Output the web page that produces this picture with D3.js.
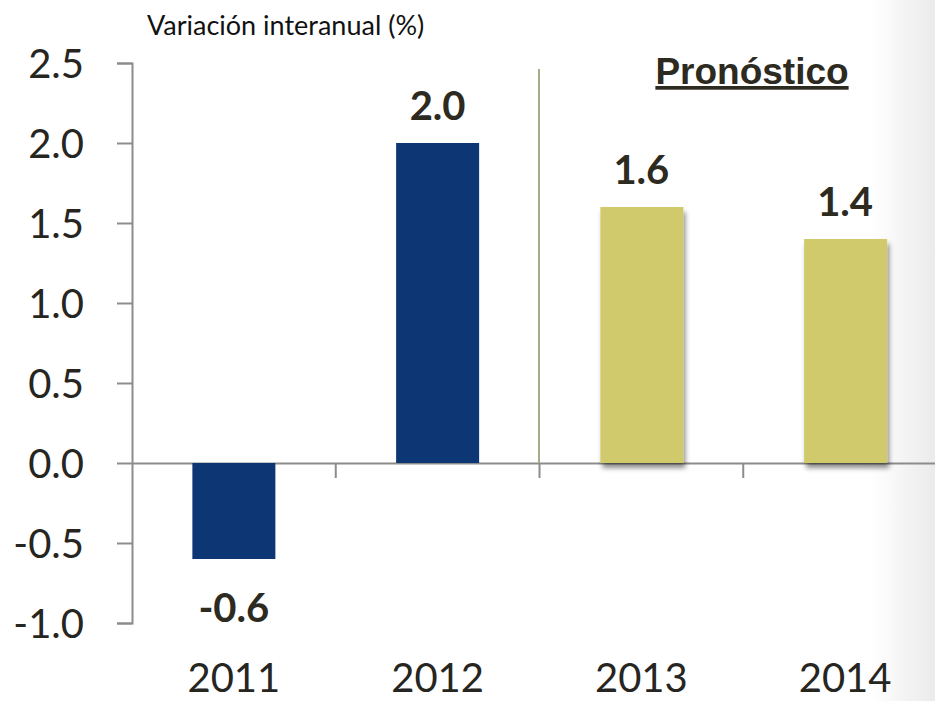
<!DOCTYPE html>
<html>
<head>
<meta charset="utf-8">
<script src="https://cdn.jsdelivr.net/npm/d3@7"></script>
<style>
  body { margin: 0; background: #fff; }
  svg { display: block; }
</style>
</head>
<body>
<div id="chart"></div>
<script>
// data
const years = ['2011', '2012', '2013', '2014'];
const values = [-0.6, 2.0, 1.6, 1.4];
const forecast = [false, false, true, true];
const yTicks = [-1.0, -0.5, 0.0, 0.5, 1.0, 1.5, 2.0, 2.5];

const width = 935, height = 701;

// plain hyphen instead of unicode minus
const fmt = d => d3.format('.1f')(d).replace('\u2212', '-');

const svg = d3.select('#chart').append('svg')
  .attr('width', width)
  .attr('height', height);

const defs = svg.append('defs');
const grad = defs.append('linearGradient')
  .attr('id', 'edge').attr('x1', '0').attr('x2', '1').attr('y1', '0').attr('y2', '0');
grad.append('stop').attr('offset', '0').attr('stop-color', '#ffffff').attr('stop-opacity', 0);
grad.append('stop').attr('offset', '0.5').attr('stop-color', '#f6f6f6').attr('stop-opacity', 1);
grad.append('stop').attr('offset', '1').attr('stop-color', '#ebebeb').attr('stop-opacity', 1);

const shadow = defs.append('filter').attr('id', 'shadow')
  .attr('x', '-10%').attr('y', '-10%').attr('width', '130%').attr('height', '130%');
shadow.append('feDropShadow')
  .attr('dx', 2).attr('dy', 5).attr('stdDeviation', 2.5)
  .attr('flood-color', '#000').attr('flood-opacity', 0.45);

// right edge shading
svg.append('rect')
  .attr('x', 860).attr('y', 0).attr('width', 75).attr('height', height)
  .attr('fill', 'url(#edge)');

// scales
const x = d3.scaleBand().domain(years).range([132, 947]).paddingInner(0).paddingOuter(0);
const y = d3.scaleLinear().domain([-1.0, 2.5]).range([623, 63]);
const barW = 83;

const g = svg.append('g');

// y axis
const yAxis = d3.axisLeft(y).tickValues(yTicks).tickSize(15).tickSizeOuter(15)
  .tickFormat(fmt);
const ya = g.append('g').attr('transform', 'translate(132,0)').call(yAxis);
ya.select('.domain').attr('stroke', '#8c8c8c').attr('stroke-width', 2);
ya.selectAll('.tick line').attr('stroke', '#8c8c8c').attr('stroke-width', 2);
ya.selectAll('.tick text')
  .attr('x', -48)
  .attr('dy', '0.36em')
  .attr('fill', '#26251f')
  .style('font-family', 'Lato, sans-serif')
  .style('font-size', '40px');

// x axis at zero
const xa = g.append('g').attr('transform', `translate(0,${y(0)})`)
  .call(d3.axisBottom(x).tickSize(0).tickSizeOuter(0).tickFormat(''));
xa.select('.domain').attr('stroke', '#8c8c8c').attr('stroke-width', 2);
xa.selectAll('.tick').remove();

// category separators below zero line
g.selectAll('.sep')
  .data(years.slice(1))
  .join('line')
  .attr('x1', d => x(d)).attr('x2', d => x(d))
  .attr('y1', y(0)).attr('y2', y(0) + 15)
  .attr('stroke', '#8c8c8c').attr('stroke-width', 2);

// forecast divider
g.append('line')
  .attr('x1', x('2013') - 0.5).attr('x2', x('2013') - 0.5)
  .attr('y1', 69).attr('y2', y(0))
  .attr('stroke', '#aaa988').attr('stroke-width', 2);

// bars
g.selectAll('.bar')
  .data(years)
  .join('rect')
  .attr('class', 'bar')
  .attr('x', (d, i) => x(d) + x.bandwidth() / 2 - barW / 2 + (forecast[i] ? 0.5 : 0))
  .attr('y', (d, i) => y(Math.max(0, values[i])))
  .attr('width', barW)
  .attr('height', (d, i) => Math.abs(y(values[i]) - y(0)))
  .attr('fill', (d, i) => forecast[i] ? '#d0ca6c' : '#0c3674')
  .attr('filter', (d, i) => forecast[i] ? 'url(#shadow)' : null);

// value labels
g.selectAll('.val')
  .data(years)
  .join('text')
  .attr('class', 'val')
  .attr('x', d => x(d) + x.bandwidth() / 2)
  .attr('y', (d, i) => values[i] >= 0 ? y(values[i]) - 23 : y(values[i]) + 63)
  .attr('text-anchor', 'middle')
  .attr('fill', '#2d2a1f')
  .style('font-family', 'Lato, sans-serif')
  .style('font-weight', 'bold')
  .style('font-size', '40px')
  .text((d, i) => fmt(values[i]));

// year labels
g.selectAll('.yr')
  .data(years)
  .join('text')
  .attr('class', 'yr')
  .attr('x', d => x(d) + x.bandwidth() / 2)
  .attr('y', 692)
  .attr('text-anchor', 'middle')
  .attr('fill', '#26251f')
  .style('font-family', 'Lato, sans-serif')
  .style('font-size', '40px')
  .text(d => d);

// title
svg.append('text')
  .attr('x', 147).attr('y', 35)
  .attr('fill', '#111')
  .style('font-family', 'Lato, sans-serif')
  .style('font-size', '27px')
  .text('Variación interanual (%)');

// forecast heading
svg.append('text')
  .attr('x', 752).attr('y', 84)
  .attr('text-anchor', 'middle')
  .attr('fill', '#2d2a1f')
  .attr('text-decoration', 'underline')
  .style('font-family', '"Liberation Sans", Arial, sans-serif')
  .style('font-weight', 'bold')
  .style('font-size', '37px')
  .text('Pronóstico');
</script>
</body>
</html>
